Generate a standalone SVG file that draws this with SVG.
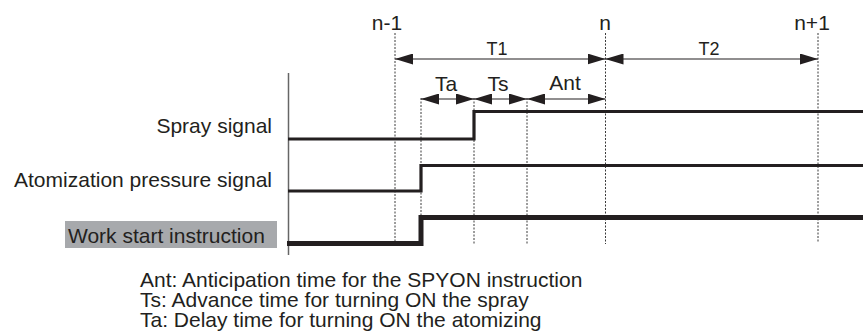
<svg xmlns="http://www.w3.org/2000/svg" width="863" height="331" viewBox="0 0 863 331">
<style>
text{font-family:"Liberation Sans",Arial,sans-serif;fill:#231f20;font-size:21px}
.sm{font-size:18px}
.mid{text-anchor:middle}
.end{text-anchor:end}
.dash{stroke:#3a3a3a;stroke-width:1;stroke-dasharray:2 1.5;fill:none}
.dim{stroke:#231f20;stroke-width:1.2;fill:none;marker-start:url(#ah);marker-end:url(#ah)}
.sig{stroke:#231f20;stroke-width:3.2;fill:none;stroke-linejoin:miter}
.sigw{stroke:#231f20;stroke-width:5;fill:none;stroke-linejoin:miter}
</style>
<defs>
<marker id="ah" viewBox="0 0 18 11" refX="18" refY="5.5" markerWidth="18" markerHeight="11" markerUnits="userSpaceOnUse" orient="auto-start-reverse">
<path d="M0,0 L18,5.5 L0,11 Z" fill="#231f20"/>
</marker>
</defs>
<g id="axis">
<line x1="288.5" y1="73" x2="288.5" y2="255" stroke="#666" stroke-width="1.5"/>
</g>
<g id="gridlines">
<line class="dash" x1="395" y1="33" x2="395" y2="241"/>
<line class="dash" x1="421" y1="98" x2="421" y2="244"/>
<line class="dash" x1="474" y1="98" x2="474" y2="244"/>
<line class="dash" x1="527" y1="98" x2="527" y2="245"/>
<line class="dash" x1="605.5" y1="33" x2="605.5" y2="244"/>
<line class="dash" x1="818" y1="33" x2="818" y2="243"/>
</g>
<g id="ticks">
<text x="387" y="29.5" class="mid">n-1</text>
<text x="605" y="29.5" class="mid">n</text>
<text x="812" y="29.5" class="mid">n+1</text>
</g>
<g id="connectors">
<line class="dim" x1="395" y1="59" x2="605.5" y2="59"/>
<line class="dim" x1="605.5" y1="59" x2="818" y2="59"/>
<line class="dim" x1="421" y1="99" x2="474" y2="99"/>
<line class="dim" x1="474" y1="99" x2="527" y2="99"/>
<line class="dim" x1="527" y1="99" x2="605.5" y2="99"/>
</g>
<g id="dim-labels">
<text x="497" y="55" class="mid sm">T1</text>
<text x="709" y="55" class="mid sm">T2</text>
<text x="446" y="91" class="mid">Ta</text>
<text x="498" y="91" class="mid">Ts</text>
<text x="565" y="90" class="mid">Ant</text>
</g>
<g id="spray">
<text x="272" y="133" class="end">Spray signal</text>
<polyline class="sig" points="288,139 474,139 474,111.5 863,111.5"/>
</g>
<g id="atomization">
<text x="272" y="187" class="end">Atomization pressure signal</text>
<polyline class="sig" points="288,191 421,191 421,165.5 863,165.5"/>
</g>
<g id="work-start">
<rect x="65" y="221" width="212" height="27" fill="#a7a9ac"/>
<text x="68" y="243">Work start instruction</text>
<polyline class="sigw" points="287,243.5 421,243.5 421,217.5 863,217.5"/>
</g>
<g id="legend">
<text x="140" y="287">Ant: Anticipation time for the SPYON instruction</text>
<text x="140" y="307">Ts: Advance time for turning ON the spray</text>
<text x="140" y="327">Ta: Delay time for turning ON the atomizing</text>
</g>
</svg>
